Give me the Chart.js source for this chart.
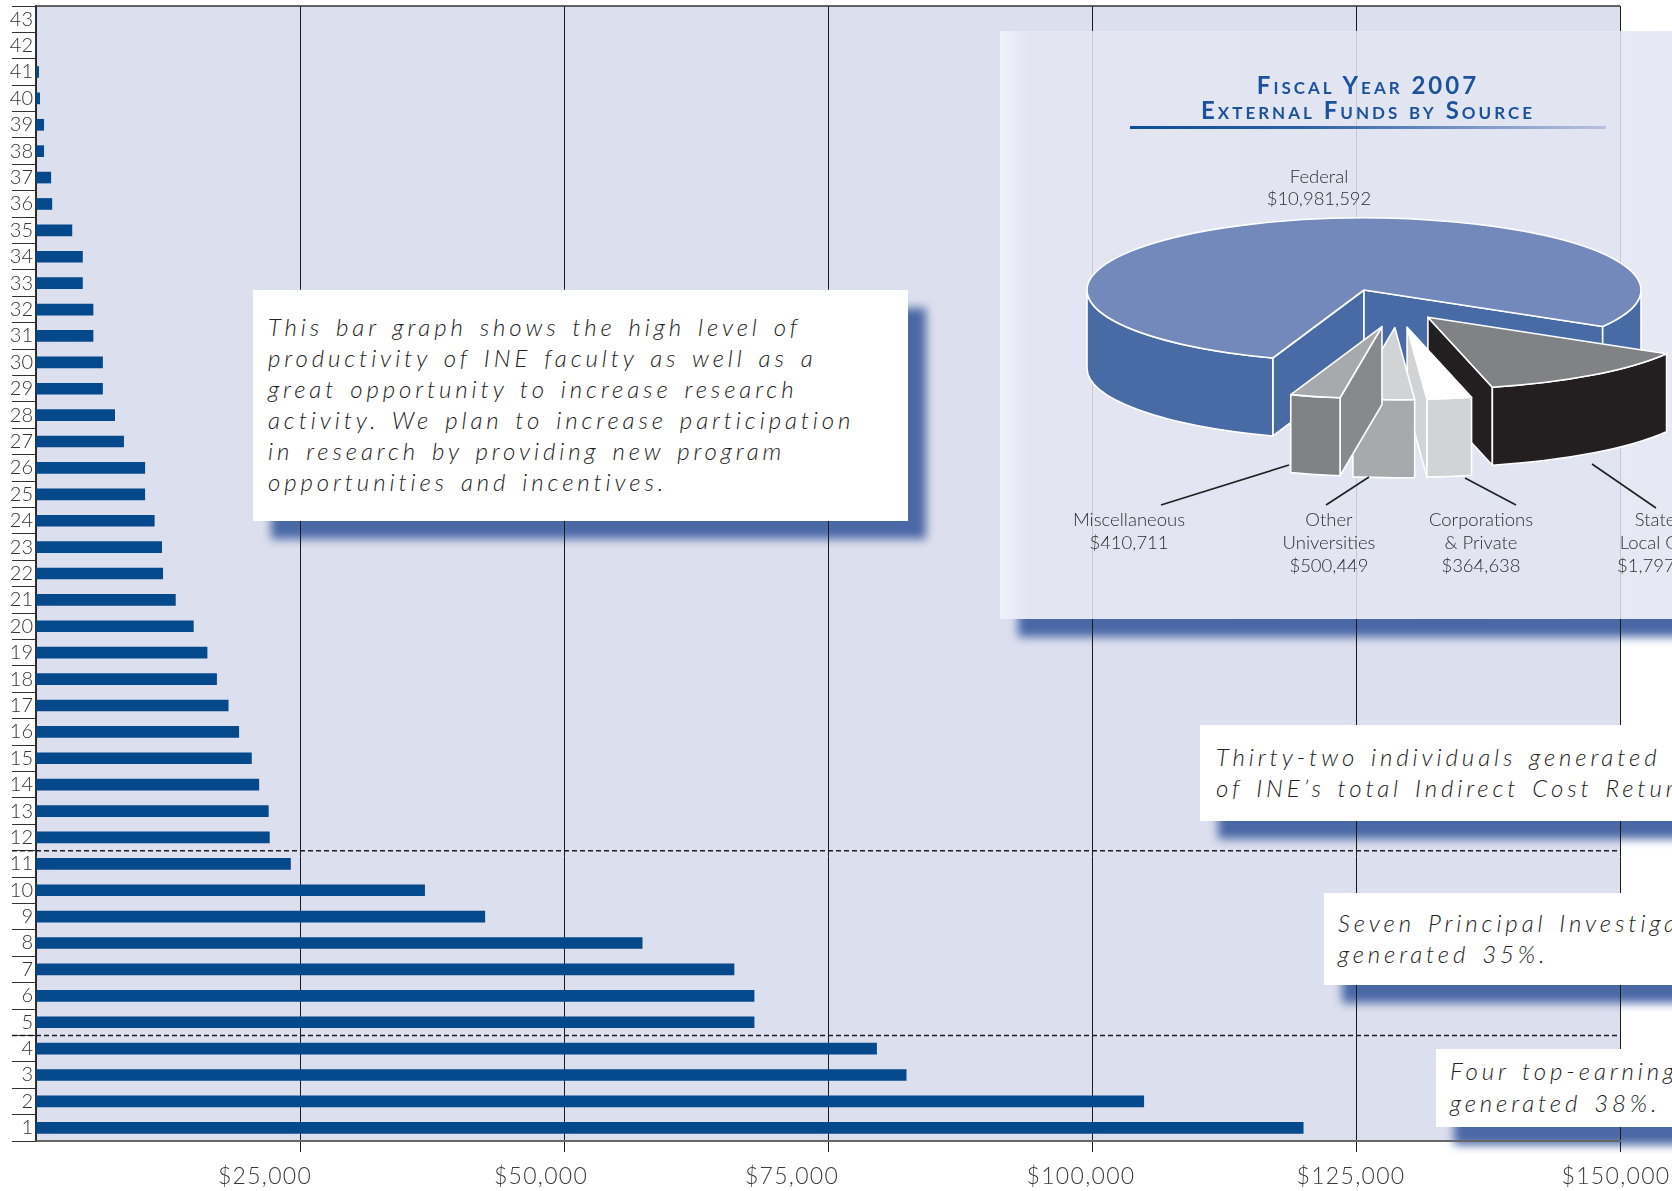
<!DOCTYPE html>
<html>
<head>
<meta charset="utf-8">
<script src="https://cdn.jsdelivr.net/npm/chart.js@4.4.1/dist/chart.umd.min.js"></script>
<style>
html,body{margin:0;padding:0;}
body{width:1672px;height:1191px;overflow:hidden;background:#fff;position:relative;font-family:Lato,"DejaVu Sans",sans-serif;}
#bar{position:absolute;left:0;top:0;}
.note{position:absolute;background:#fff;color:#222;font-style:italic;font-weight:300;font-size:24px;letter-spacing:3.9px;word-spacing:3px;white-space:nowrap;box-sizing:border-box;}
#boxA{left:253px;top:290px;width:655px;height:231px;padding:21px 0 0 15px;line-height:31px;}
#boxB{left:1200px;top:725px;width:640px;height:96px;padding:17px 0 0 16px;line-height:30.5px;}
#boxC{left:1324px;top:893px;width:500px;height:92px;padding:14px 0 0 14px;line-height:31px;}
#boxD{left:1436px;top:1049px;width:400px;height:78px;padding:6px 0 0 14px;line-height:32px;}
#pieBox{position:absolute;left:1000px;top:31px;width:720px;height:588px;
  background:linear-gradient(to right, rgba(240,242,250,0.92) 0px, rgba(228,230,242,0.86) 28px, rgba(226,229,241,0.86) 100%);}
#pieTitle{position:absolute;left:1118px;width:500px;top:72px;text-align:center;font-weight:700;font-size:24px;font-variant:small-caps;letter-spacing:3px;line-height:25px;color:#1b529b;}
#pieRule{position:absolute;left:1130px;top:126px;width:476px;height:3px;background:linear-gradient(to right,#0b4f9a 0%,#2a5fa4 35%,#b9c1de 100%);}
#pie{position:absolute;left:1034px;top:70px;}
.plab{position:absolute;width:200px;text-align:center;font-weight:300;font-size:18.5px;line-height:23px;color:#2e2e2e;white-space:nowrap;}
#leaders{position:absolute;left:0;top:0;}
</style>
</head>
<body>
<canvas id="bar" width="1672" height="1191"></canvas>

<div class="note shadowed" id="boxA">This bar graph shows the high level of<br>productivity of INE faculty as well as a<br>great opportunity to increase research<br>activity. We plan to increase participation<br>in research by providing new program<br>opportunities and incentives.</div>
<div class="note shadowed" id="boxB">Thirty-two individuals generated 27%<br>of INE’s total Indirect Cost Return.</div>
<div class="note shadowed" id="boxC">Seven Principal Investigators<br>generated 35%.</div>
<div class="note shadowed" id="boxD">Four top-earning individuals<br>generated 38%.</div>

<div id="pieBox" class="shadowed"></div>
<div id="pieTitle">Fiscal Year 2007<br>External Funds by Source</div>
<div id="pieRule"></div>
<canvas id="pie" width="660" height="440"></canvas>

<div class="plab" style="left:1219px;top:165px;line-height:22px;">Federal<br>$10,981,592</div>
<div class="plab" style="left:1029px;top:508px;">Miscellaneous<br>$410,711</div>
<div class="plab" style="left:1229px;top:508px;">Other<br>Universities<br>$500,449</div>
<div class="plab" style="left:1381px;top:508px;">Corporations<br>&amp; Private<br>$364,638</div>
<div class="plab" style="left:1564px;top:508px;">State &amp;<br>Local Gov’t<br>$1,797,600</div>

<svg id="leaders" width="1672" height="1191">
  <g stroke="#231f20" stroke-width="1.6" fill="none">
    <line x1="1161" y1="505" x2="1289" y2="465"/>
    <line x1="1326" y1="505" x2="1369" y2="477"/>
    <line x1="1516" y1="505" x2="1465" y2="478"/>
    <line x1="1656" y1="508" x2="1592" y2="464"/>
  </g>
</svg>

<script>
// ---------- data ----------
const facultyRank = ['1','2','3','4','5','6','7','8','9','10','11','12','13','14','15','16','17','18','19','20','21','22','23','24','25','26','27','28','29','30','31','32','33','34','35','36','37','38','39','40','41','42','43'];
const indirectCostReturn = [120000,104900,82400,79600,68000,68000,66100,57400,42500,36800,
  24100,22100,22000,21100,20400,19200,18200,17100,16200,14900,
  13200,12000,11900,11200,10300,10300,8300,7450,6300,6300,
  5400,5400,4400,4400,3400,1500,1400,730,730,350,250,0,0];
const xTickValues = [0,25000,50000,75000,100000,125000,150000];
const groupBreaksAfterRank = [4, 11];

const fundSources = ['State & Local Gov’t','Corporations & Private','Other Universities','Miscellaneous','Federal'];
const fundAmounts = [1797600, 364638, 500449, 410711, 10981592];

// ---------- styles ----------
const xLabelShift = [0, -35, -23, -36, -11, -5, -4];
const topColors   = ['#808285','#ffffff','#d1d3d4','#a7a9ac','#7389bb'];
const frontColors = ['#231f20','#d1d3d4','#a7a9ac','#808285','#486ba6'];
const sideColors  = ['#231f20','#d1d3d4','#939598','#88898c','#486ba6'];
const explode     = [130,145,145,145,0];

Chart.defaults.font.family = 'Lato, "DejaVu Sans", sans-serif';
const fmtMoney = v => '$' + v.toLocaleString('en-US');

const decor = {
  id: 'decor',
  beforeDraw(chart) {
    const {ctx, chartArea: a} = chart;
    ctx.save();
    ctx.fillStyle = '#dcdfee';
    ctx.fillRect(a.left, a.top, a.right - a.left, a.bottom - a.top);
    const cr = chart.canvas.getBoundingClientRect();
    document.querySelectorAll('.shadowed').forEach(el => {
      const r = el.getBoundingClientRect();
      const x = r.left - cr.left, y = r.top - cr.top;
      ctx.save();
      ctx.beginPath();
      ctx.rect(0, 0, chart.width, chart.height);
      ctx.rect(x, y, r.width, r.height);
      ctx.clip('evenodd');
      ctx.filter = 'blur(5px)';
      ctx.fillStyle = '#4a68a6';
      ctx.fillRect(x + 18, y + 18, r.width, r.height);
      ctx.restore();
    });
    ctx.restore();
  },
  afterDraw(chart) {
    const {ctx, chartArea: a} = chart;
    const y = chart.scales.y, x = chart.scales.x;
    ctx.save();
    ctx.strokeStyle = '#333';
    ctx.lineWidth = 1.5;
    ctx.beginPath(); ctx.moveTo(a.left, a.top); ctx.lineTo(a.right, a.top); ctx.stroke();
    ctx.setLineDash([5, 3]);
    ctx.strokeStyle = '#1e1e1e';
    groupBreaksAfterRank.forEach(rank => {
      const i = facultyRank.indexOf(String(rank));
      const yy = (y.getPixelForValue(i) + y.getPixelForValue(i + 1)) / 2;
      ctx.beginPath(); ctx.moveTo(a.left - 24, yy); ctx.lineTo(a.right, yy); ctx.stroke();
    });
    ctx.restore();
    // x tick labels, placed as in the original print
    ctx.save();
    ctx.font = '300 23px Lato, "DejaVu Sans", sans-serif';
    ctx.letterSpacing = '1.3px';
    ctx.fillStyle = '#3a3a3a';
    ctx.textAlign = 'center';
    ctx.textBaseline = 'middle';
    xTickValues.forEach((v, i) => {
      if (v === 0) return;
      ctx.fillText(fmtMoney(v), x.getPixelForValue(v) + xLabelShift[i], a.bottom + 36);
    });
    ctx.restore();
  }
};

new Chart(document.getElementById('bar'), {
  type: 'bar',
  data: {
    labels: facultyRank,
    datasets: [{ data: indirectCostReturn, backgroundColor: '#03498c', borderWidth: 0, barThickness: 11 }]
  },
  options: {
    indexAxis: 'y',
    responsive: false,
    animation: false,
    events: [],
    layout: { padding: { top: 6, right: 52, left: 0, bottom: 0 } },
    plugins: { legend: { display: false }, tooltip: { enabled: false } },
    scales: {
      x: {
        min: 0, max: 150000,
        afterBuildTicks: s => { s.ticks = xTickValues.map(v => ({ value: v })); },
        ticks: {
          callback: v => v === 0 ? '' : fmtMoney(v),
          font: { size: 23, weight: 300 }, color: 'rgba(0,0,0,0)', padding: 12, maxRotation: 0, autoSkip: false
        },
        grid: {
          color: '#1a1a1a', lineWidth: 1, tickLength: 11, drawTicks: true,
          tickColor: c => (c.tick && c.tick.value === 0) ? 'rgba(0,0,0,0)' : '#1a1a1a'
        },
        border: { display: true, color: '#666', width: 2 },
        afterFit: s => { s.height = 50; s.paddingLeft = 0; s.paddingRight = 0; }
      },
      y: {
        reverse: true,
        ticks: { font: { size: 20, weight: 300 }, color: '#333', padding: -21, autoSkip: false },
        grid: { display: true, drawOnChartArea: false, drawTicks: true, tickLength: 24, color: '#333', lineWidth: 1, offset: true },
        border: { display: true, color: '#333', width: 1.5 },
        afterFit: s => { s.width = 36; s.paddingTop = 0; s.paddingBottom = 0; }
      }
    }
  },
  plugins: [decor]
});

// ---------- 3D pie ----------
function drawSlice(ctx, arc, i, o) {
  const p = arc.getProps(['x','y','startAngle','endAngle','outerRadius']);
  const a0 = p.startAngle, a1 = p.endAngle, R = p.outerRadius, k = o.tilt, D = o.depth;
  const off = arc.options.offset || 0, m = (a0 + a1) / 2;
  const cx = p.x + off * (o.spreadX * Math.cos(m) + o.shiftX);
  const cy = p.y + off * k * Math.sin(m);
  const ry = R * k;
  const pt = (a, dz) => [cx + R * Math.cos(a), cy + ry * Math.sin(a) + dz];
  ctx.save();
  ctx.lineWidth = 1.6; ctx.strokeStyle = '#ffffff'; ctx.lineJoin = 'round';
  const fs = c => { ctx.fillStyle = c; ctx.fill(); ctx.stroke(); };
  const walls = [];
  if (Math.cos(a0) < 0) walls.push(a0);
  if (Math.cos(a1) > 0) walls.push(a1);
  walls.forEach(a => {
    const r0 = pt(a, 0), r1 = pt(a, D);
    ctx.beginPath(); ctx.moveTo(cx, cy); ctx.lineTo(r0[0], r0[1]); ctx.lineTo(r1[0], r1[1]); ctx.lineTo(cx, cy + D); ctx.closePath();
    fs(o.side[i]);
  });
  const TWO = Math.PI * 2;
  for (let n = Math.floor(a0 / TWO) - 1; n <= Math.ceil(a1 / TWO); n++) {
    const b0 = Math.max(a0, n * TWO), b1 = Math.min(a1, n * TWO + Math.PI);
    if (b1 - b0 > 1e-4) {
      ctx.beginPath();
      ctx.ellipse(cx, cy, R, ry, 0, b0, b1, false);
      ctx.ellipse(cx, cy + D, R, ry, 0, b1, b0, true);
      ctx.closePath();
      fs(o.front[i]);
    }
  }
  ctx.beginPath(); ctx.moveTo(cx, cy); ctx.ellipse(cx, cy, R, ry, 0, a0, a1, false); ctx.closePath();
  fs(arc.options.backgroundColor);
  ctx.restore();
}

const pie3d = {
  id: 'pie3d',
  beforeDatasetsDraw(chart, args, o) {
    const arcs = chart.getDatasetMeta(0).data;
    const order = arcs.map((a, i) => i).sort((i, j) => (arcs[i].options.offset || 0) - (arcs[j].options.offset || 0));
    order.forEach(i => drawSlice(chart.ctx, arcs[i], i, o));
    return false;
  }
};

new Chart(document.getElementById('pie'), {
  type: 'pie',
  data: {
    labels: fundSources,
    datasets: [{ data: fundAmounts, backgroundColor: topColors, borderWidth: 0, offset: explode, hoverOffset: 0 }]
  },
  options: {
    responsive: false, animation: false, events: [],
    radius: 277, rotation: 120.5,
    layout: { padding: 0 },
    plugins: {
      legend: { display: false }, tooltip: { enabled: false },
      pie3d: { tilt: 0.26, depth: 78, spreadX: 0.44, shiftX: 0.23, front: frontColors, side: sideColors }
    }
  },
  plugins: [pie3d]
});
</script>
</body>
</html>
